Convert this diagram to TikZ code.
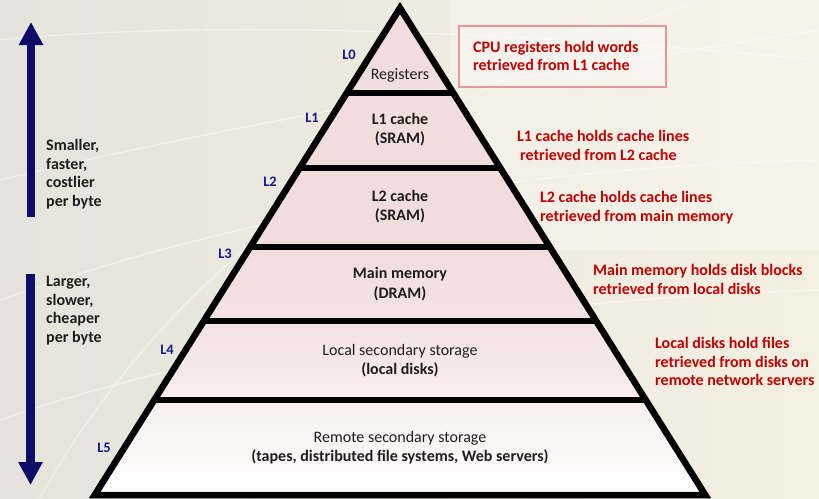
\documentclass[tikz,border=0pt]{standalone}
\usepackage{fontspec}
\setmainfont{Carlito}
\usetikzlibrary{arrows.meta}
\definecolor{bgL}{RGB}{228,228,220}
\definecolor{bgR}{RGB}{246,240,226}
\definecolor{tierA}{RGB}{242,221,221}
\definecolor{tierB}{RGB}{244,226,226}
\definecolor{tierC}{RGB}{249,238,238}
\definecolor{tierD}{RGB}{255,255,255}
\definecolor{lvl}{RGB}{26,26,140}
\definecolor{navy}{RGB}{14,14,104}
\definecolor{note}{RGB}{192,0,0}
\definecolor{notebox}{RGB}{232,150,150}
\definecolor{ink}{RGB}{30,30,30}
\tikzset{
  lvllabel/.style={text=lvl, font=\fontsize{14.5}{16}\selectfont\bfseries, inner sep=0pt},
  notetext/.style={text=note, font=\fontsize{16}{18.6}\selectfont\bfseries, align=left, anchor=west, inner sep=0pt},
  sidetext/.style={text=ink, font=\fontsize{16}{18.6}\selectfont\bfseries, align=left, anchor=north west, inner sep=0pt},
  tiertext/.style={text=ink, font=\fontsize{16}{19.5}\selectfont\bfseries, align=center, inner sep=0pt},
  tiertextreg/.style={text=ink, font=\fontsize{16}{19.5}\selectfont, align=center, inner sep=0pt},
  edge/.style={line width=6.5pt, black},
  bigarrow/.style={navy, line width=8.5pt, -{Triangle[width=23pt,length=23pt]}},
  texture/.style={white, opacity=0.45, line width=1.2pt}
}
\begin{document}
\begin{tikzpicture}[x=1pt,y=-1pt]
\useasboundingbox (0,0) rectangle (819,498);
\shade[left color=bgL, right color=bgR] (0,0) rectangle (819,498);
\fill[white, opacity=0.25] (819,0) rectangle (450,250);
% faint texture arcs
\draw[texture] (0,40) .. controls (200,20) and (500,30) .. (819,60);
\draw[texture] (40,498) .. controls (150,300) and (350,120) .. (700,0);
\draw[texture] (0,300) .. controls (200,230) and (450,170) .. (819,160);
\draw[texture] (0,180) .. controls (250,120) and (500,80) .. (819,30);
\draw[texture] (0,420) .. controls (200,350) and (500,300) .. (819,290);
% tiers
\fill[tierA] (400,8) -- (453.3,93) -- (346.7,93) -- cycle;
\fill[tierA] (346.7,93) -- (453.3,93) -- (500.3,168) -- (299.7,168) -- cycle;
\fill[tierA] (299.7,168) -- (500.3,168) -- (549.9,247) -- (250.1,247) -- cycle;
\shade[top color=tierA, bottom color=tierB] (250.1,247) -- (549.9,247) -- (596.3,321) -- (203.7,321) -- cycle;
\shade[top color=tierB, bottom color=tierC] (203.7,321) -- (596.3,321) -- (645.8,400) -- (154.2,400) -- cycle;
\shade[top color=tierC, bottom color=tierD] (154.2,400) -- (645.8,400) -- (705.3,495) -- (94.7,495) -- cycle;
% outline and dividers
\draw[edge, line join=miter] (94.7,495) -- (400,8) -- (705.3,495) -- cycle;
\draw[edge] (346.7,93) -- (453.3,93);
\draw[edge] (299.7,168) -- (500.3,168);
\draw[edge] (250.1,247) -- (549.9,247);
\draw[edge] (203.7,321) -- (596.3,321);
\draw[edge] (154.2,400) -- (645.8,400);
% tier texts
\node[tiertextreg] (t0) at (400,75) {Registers};
\node[tiertext] (t1) at (400,129.5) {L1 cache\\(SRAM)};
\node[tiertext] (t2) at (400,206.5) {L2 cache\\(SRAM)};
\node[tiertext] (t3) at (400,284) {Main memory\\(DRAM)};
\node[tiertext] (t4) at (400,360.5) {\mdseries Local secondary storage\\(local disks)};
\node[tiertext] (t5) at (400,447.5) {\mdseries Remote secondary storage\\(tapes, distributed file systems, Web servers)};
% level labels
\node[lvllabel] (l0) at (349,55) {L0};
\node[lvllabel] (l1) at (312,118) {L1};
\node[lvllabel] (l2) at (270,182) {L2};
\node[lvllabel] (l3) at (225,254) {L3};
\node[lvllabel] (l4) at (167,350) {L4};
\node[lvllabel] (l5) at (104,448) {L5};
% notes
\node[draw=notebox, line width=1.8pt, fill=white, fill opacity=0.3, text opacity=1, minimum width=207pt, minimum height=61pt, anchor=north west] (box) at (458,25) {};
\node[notetext] (n0) at (473,56) {CPU registers hold words\\retrieved from L1 cache};
\node[notetext] (n1) at (517,145.5) {L1 cache holds cache lines\\\hspace{3pt}retrieved from L2 cache};
\node[notetext] (n2) at (540,207.5) {L2 cache holds cache lines\\retrieved from main memory};
\node[notetext] (n3) at (593,279.5) {Main memory holds disk blocks\\retrieved from local disks};
\node[notetext] (n4) at (655,361.5) {Local disks hold files\\retrieved from disks on\\remote network servers};
% side arrows and texts
\coordinate (ua) at (31,217);
\coordinate (ub) at (31,22);
\coordinate (da) at (30.5,274);
\coordinate (db) at (30.5,485);
\draw[bigarrow] (ua) -- (ub);
\draw[bigarrow] (da) -- (db);
\node[sidetext] (s1) at (46,139) {Smaller,\\faster,\\costlier\\per byte};
\node[sidetext] (s2) at (46,276) {Larger,\\slower,\\cheaper\\per byte};
\end{tikzpicture}
\end{document}
